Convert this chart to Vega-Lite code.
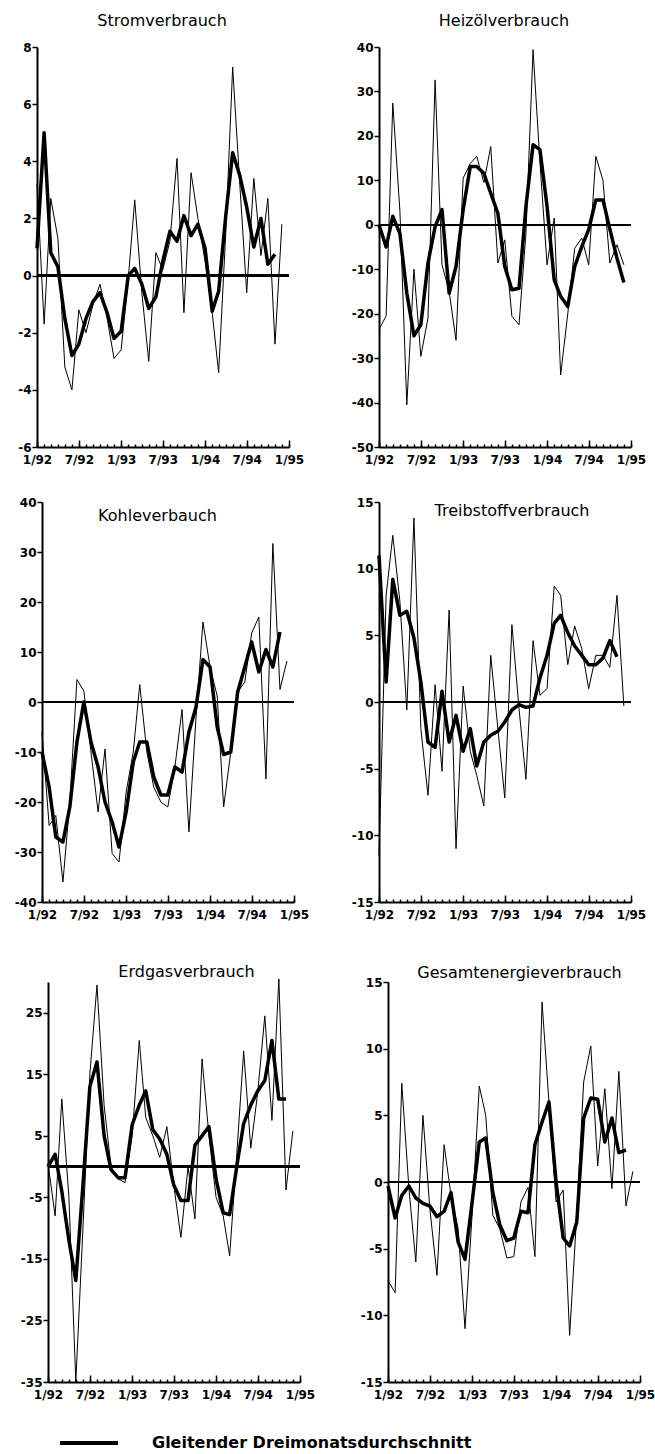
{
"$schema": "https://vega.github.io/schema/vega-lite/v6.json",
"background": "white",
"padding": {"left": 14, "top": 13, "right": 0, "bottom": 0},
"columns": 2,
"spacing": {"row": 55, "column": 79},
"bounds": "flush",
"datasets": {
"strom": [
{"d":"1992-01","v":3.2,"a":0.95},{"d":"1992-02","v":-1.7,"a":5.0},{"d":"1992-03","v":2.7,"a":0.8},{"d":"1992-04","v":1.3,"a":0.3},{"d":"1992-05","v":-3.2,"a":-1.5},{"d":"1992-06","v":-4.0,"a":-2.8},{"d":"1992-07","v":-1.2,"a":-2.4},{"d":"1992-08","v":-2.0,"a":-1.5},{"d":"1992-09","v":-1.0,"a":-0.9},{"d":"1992-10","v":-0.3,"a":-0.6},{"d":"1992-11","v":-1.5,"a":-1.3},{"d":"1992-12","v":-2.9,"a":-2.2},
{"d":"1993-01","v":-2.6,"a":-1.95},{"d":"1993-02","v":-0.1,"a":0.0},{"d":"1993-03","v":2.65,"a":0.25},{"d":"1993-04","v":-0.6,"a":-0.3},{"d":"1993-05","v":-3.0,"a":-1.15},{"d":"1993-06","v":0.8,"a":-0.75},{"d":"1993-07","v":0.2,"a":0.5},{"d":"1993-08","v":1.2,"a":1.55},{"d":"1993-09","v":4.1,"a":1.2},{"d":"1993-10","v":-1.3,"a":2.1},{"d":"1993-11","v":3.6,"a":1.4},{"d":"1993-12","v":2.0,"a":1.8},
{"d":"1994-01","v":0.5,"a":0.95},{"d":"1994-02","v":-1.3,"a":-1.25},{"d":"1994-03","v":-3.4,"a":-0.55},{"d":"1994-04","v":1.5,"a":2.1},{"d":"1994-05","v":7.3,"a":4.3},{"d":"1994-06","v":3.2,"a":3.5},{"d":"1994-07","v":-0.6,"a":2.4},{"d":"1994-08","v":3.4,"a":1.0},{"d":"1994-09","v":0.7,"a":2.0},{"d":"1994-10","v":2.7,"a":0.4},{"d":"1994-11","v":-2.4,"a":0.75},{"d":"1994-12","v":1.8,"a":null}
],
"heiz": [
{"d":"1992-01","v":-23.6,"a":0},{"d":"1992-02","v":-20.5,"a":-5},{"d":"1992-03","v":27.4,"a":1.9},{"d":"1992-04","v":3,"a":-2},{"d":"1992-05","v":-40.5,"a":-15.4},{"d":"1992-06","v":-10,"a":-25},{"d":"1992-07","v":-29.6,"a":-22.5},{"d":"1992-08","v":-21,"a":-8.6},{"d":"1992-09","v":32.6,"a":-0.4},{"d":"1992-10","v":-9,"a":3.4},{"d":"1992-11","v":-15,"a":-15.4},{"d":"1992-12","v":-26,"a":-9.4},
{"d":"1993-01","v":10.5,"a":3.4},{"d":"1993-02","v":13.8,"a":13.1},{"d":"1993-03","v":15.4,"a":13.1},{"d":"1993-04","v":9.5,"a":11.6},{"d":"1993-05","v":17.6,"a":7.1},{"d":"1993-06","v":-8.6,"a":2.6},{"d":"1993-07","v":-3.4,"a":-9.4},{"d":"1993-08","v":-20.6,"a":-14.6},{"d":"1993-09","v":-22.5,"a":-14.3},{"d":"1993-10","v":-2,"a":4.1},{"d":"1993-11","v":39.4,"a":18},{"d":"1993-12","v":14,"a":16.9},
{"d":"1994-01","v":-9,"a":4.1},{"d":"1994-02","v":1.5,"a":-12.4},{"d":"1994-03","v":-33.8,"a":-16.1},{"d":"1994-04","v":-20,"a":-18.4},{"d":"1994-05","v":-5.3,"a":-9.4},{"d":"1994-06","v":-3,"a":-4.9},{"d":"1994-07","v":-9,"a":-1.1},{"d":"1994-08","v":15.4,"a":5.6},{"d":"1994-09","v":10,"a":5.6},{"d":"1994-10","v":-8.6,"a":-1},{"d":"1994-11","v":-4.5,"a":-7.5},{"d":"1994-12","v":-9,"a":-13}
],
"kohle": [
{"d":"1992-01","v":-6,"a":-10},{"d":"1992-02","v":-24.7,"a":-17},{"d":"1992-03","v":-22.7,"a":-27},{"d":"1992-04","v":-36,"a":-28},{"d":"1992-05","v":-20,"a":-21},{"d":"1992-06","v":4.5,"a":-8},{"d":"1992-07","v":2.2,"a":0},{"d":"1992-08","v":-10,"a":-8},{"d":"1992-09","v":-22,"a":-13},{"d":"1992-10","v":-9.4,"a":-20},{"d":"1992-11","v":-30.3,"a":-24},{"d":"1992-12","v":-32,"a":-29},
{"d":"1993-01","v":-18,"a":-22},{"d":"1993-02","v":-10,"a":-12},{"d":"1993-03","v":3.5,"a":-8},{"d":"1993-04","v":-10,"a":-8},{"d":"1993-05","v":-17,"a":-15},{"d":"1993-06","v":-20,"a":-18.6},{"d":"1993-07","v":-21,"a":-18.6},{"d":"1993-08","v":-13,"a":-13},{"d":"1993-09","v":-1.5,"a":-14},{"d":"1993-10","v":-26,"a":-6},{"d":"1993-11","v":-3,"a":-1},{"d":"1993-12","v":16,"a":8.5},
{"d":"1994-01","v":7,"a":7},{"d":"1994-02","v":1.2,"a":-5},{"d":"1994-03","v":-21,"a":-10.5},{"d":"1994-04","v":-10,"a":-10},{"d":"1994-05","v":2,"a":2},{"d":"1994-06","v":4,"a":7},{"d":"1994-07","v":13.8,"a":12},{"d":"1994-08","v":17,"a":6},{"d":"1994-09","v":-15.4,"a":10.5},{"d":"1994-10","v":31.7,"a":7},{"d":"1994-11","v":2.5,"a":14},{"d":"1994-12","v":8.2,"a":null}
],
"treib": [
{"d":"1992-01","v":-11.5,"a":11},{"d":"1992-02","v":8,"a":1.5},{"d":"1992-03","v":12.5,"a":9.2},{"d":"1992-04","v":7.5,"a":6.5},{"d":"1992-05","v":-0.6,"a":6.8},{"d":"1992-06","v":13.8,"a":4.8},{"d":"1992-07","v":-2,"a":1.5},{"d":"1992-08","v":-7,"a":-3},{"d":"1992-09","v":1.3,"a":-3.4},{"d":"1992-10","v":-5.2,"a":0.8},{"d":"1992-11","v":6.9,"a":-3},{"d":"1992-12","v":-11,"a":-1},
{"d":"1993-01","v":1.2,"a":-3.7},{"d":"1993-02","v":-3.7,"a":-2},{"d":"1993-03","v":-5.5,"a":-4.8},{"d":"1993-04","v":-7.8,"a":-3},{"d":"1993-05","v":3.5,"a":-2.5},{"d":"1993-06","v":-2,"a":-2.2},{"d":"1993-07","v":-7.2,"a":-1.5},{"d":"1993-08","v":5.8,"a":-0.6},{"d":"1993-09","v":-0.5,"a":-0.2},{"d":"1993-10","v":-5.8,"a":-0.4},{"d":"1993-11","v":4.6,"a":-0.3},{"d":"1993-12","v":0.5,"a":1.8},
{"d":"1994-01","v":1,"a":3.5},{"d":"1994-02","v":8.7,"a":5.9},{"d":"1994-03","v":8,"a":6.5},{"d":"1994-04","v":2.8,"a":5.2},{"d":"1994-05","v":5.7,"a":4.2},{"d":"1994-06","v":4,"a":3.5},{"d":"1994-07","v":1,"a":2.8},{"d":"1994-08","v":3.5,"a":2.8},{"d":"1994-09","v":3.5,"a":3.3},{"d":"1994-10","v":2.6,"a":4.6},{"d":"1994-11","v":8,"a":3.4},{"d":"1994-12","v":-0.3,"a":null}
],
"erdgas": [
{"d":"1992-01","v":0.5,"a":0},{"d":"1992-02","v":-8,"a":2},{"d":"1992-03","v":11,"a":-4},{"d":"1992-04","v":-5,"a":-12},{"d":"1992-05","v":-35,"a":-18.5},{"d":"1992-06","v":-10,"a":-3},{"d":"1992-07","v":15,"a":13},{"d":"1992-08","v":29.5,"a":17},{"d":"1992-09","v":10,"a":5},{"d":"1992-10","v":0,"a":-0.5},{"d":"1992-11","v":-2,"a":-1.8},{"d":"1992-12","v":-2.6,"a":-1.8},
{"d":"1993-01","v":5,"a":6.8},{"d":"1993-02","v":20.5,"a":10},{"d":"1993-03","v":8,"a":12.3},{"d":"1993-04","v":5,"a":6},{"d":"1993-05","v":1.5,"a":4.5},{"d":"1993-06","v":6.5,"a":2},{"d":"1993-07","v":-3,"a":-3},{"d":"1993-08","v":-11.5,"a":-5.5},{"d":"1993-09","v":0,"a":-5.5},{"d":"1993-10","v":-8.5,"a":3.5},{"d":"1993-11","v":17.5,"a":5},{"d":"1993-12","v":5,"a":6.5},
{"d":"1994-01","v":-5,"a":-2},{"d":"1994-02","v":-8,"a":-7.5},{"d":"1994-03","v":-14.5,"a":-7.8},{"d":"1994-04","v":2,"a":0},{"d":"1994-05","v":18.8,"a":7},{"d":"1994-06","v":3,"a":10},{"d":"1994-07","v":12,"a":12.3},{"d":"1994-08","v":24.5,"a":14},{"d":"1994-09","v":7.5,"a":20.5},{"d":"1994-10","v":30.5,"a":11},{"d":"1994-11","v":-3.8,"a":11},{"d":"1994-12","v":5.8,"a":null}
],
"gesamt": [
{"d":"1992-01","v":-7.4,"a":-0.3},{"d":"1992-02","v":-8.3,"a":-2.7},{"d":"1992-03","v":7.4,"a":-1.0},{"d":"1992-04","v":-0.5,"a":-0.3},{"d":"1992-05","v":-6,"a":-1.2},{"d":"1992-06","v":5,"a":-1.6},{"d":"1992-07","v":-2,"a":-1.8},{"d":"1992-08","v":-7,"a":-2.6},{"d":"1992-09","v":2.8,"a":-2.2},{"d":"1992-10","v":-1,"a":-0.8},{"d":"1992-11","v":-3.5,"a":-4.5},{"d":"1992-12","v":-11,"a":-5.8},
{"d":"1993-01","v":-2.4,"a":-1.5},{"d":"1993-02","v":7.2,"a":3},{"d":"1993-03","v":5,"a":3.3},{"d":"1993-04","v":-2.5,"a":-0.8},{"d":"1993-05","v":-3.5,"a":-3.2},{"d":"1993-06","v":-5.7,"a":-4.4},{"d":"1993-07","v":-5.6,"a":-4.2},{"d":"1993-08","v":-1.5,"a":-2.2},{"d":"1993-09","v":-0.4,"a":-2.3},{"d":"1993-10","v":-5.6,"a":2.8},{"d":"1993-11","v":13.5,"a":4.5},{"d":"1993-12","v":6,"a":6},
{"d":"1994-01","v":-1.5,"a":0},{"d":"1994-02","v":-0.6,"a":-4.2},{"d":"1994-03","v":-11.5,"a":-4.8},{"d":"1994-04","v":-2.4,"a":-3},{"d":"1994-05","v":7.5,"a":4.8},{"d":"1994-06","v":10.2,"a":6.3},{"d":"1994-07","v":1.2,"a":6.2},{"d":"1994-08","v":7,"a":3},{"d":"1994-09","v":-0.5,"a":4.8},{"d":"1994-10","v":8.3,"a":2.2},{"d":"1994-11","v":-1.8,"a":2.4},{"d":"1994-12","v":0.8,"a":null}
]
},
"concat": [
{
"width": 252, "height": 400,
"title": {"text": "Stromverbrauch", "frame": "group", "anchor": "middle", "dx": -1, "offset": 12},
"data": {"name": "strom"},
"layer": [
{"mark": {"type": "line", "color": "black", "strokeWidth": 1, "strokeJoin": "round"},
 "encoding": {
  "x": {"field": "d", "type": "temporal", "scale": {"type": "utc", "domain": [{"year":1992,"month":1,"date":1,"utc":true},{"year":1995,"month":1,"date":1,"utc":true}], "range": [0, 252]},
        "axis": {"orient": "bottom", "tickCount": {"interval": "month", "step": 6}, "format": "%-m/%y", "ticks": false, "tickSize": 0, "labelPadding": 7, "labelFlush": false, "labelOverlap": false, "title": null}},
  "y": {"field": "v", "type": "quantitative", "scale": {"domain": [-6, 8], "nice": false, "zero": false},
        "axis": {"orient": "left", "values": [-6,-4,-2,0,2,4,6,8], "tickSize": 5, "labelPadding": 1, "title": null, "labelExpr": "datum.value < 0 ? '-' + (-datum.value) : '' + datum.value"}}
 }},
{"mark": {"type": "line", "color": "black", "strokeWidth": 3.5, "strokeJoin": "round"},
 "encoding": {
  "x": {"field": "d", "type": "temporal", "scale": {"type": "utc", "domain": [{"year":1992,"month":1,"date":1,"utc":true},{"year":1995,"month":1,"date":1,"utc":true}], "range": [0, 252]},
        "axis": {"orient": "top", "offset": -400, "tickCount": {"interval": "month", "step": 1}, "labels": false, "domain": false, "tickSize": 3, "title": null}},
  "y": {"field": "a", "type": "quantitative", "scale": {"domain": [-6, 8], "nice": false, "zero": false}, "axis": null}
 }},
{"mark": {"type": "rule", "color": "black", "strokeWidth": 1.5},
 "encoding": {
  "x": {"datum": {"year":1992,"month":1,"date":1,"utc":true}, "type": "temporal", "scale": {"type": "utc", "domain": [{"year":1992,"month":1,"date":1,"utc":true},{"year":1995,"month":1,"date":1,"utc":true}], "range": [0, 252]},
        "axis": {"orient": "top", "offset": -400, "tickCount": {"interval": "month", "step": 6}, "labels": false, "domain": false, "tickSize": 7, "title": null}},
  "x2": {"datum": {"year":1995,"month":1,"date":1,"utc":true}},
  "y": {"datum": 0, "type": "quantitative", "scale": {"domain": [-6, 8], "nice": false, "zero": false}, "axis": null}
 }}
],
"resolve": {"axis": {"x": "independent", "y": "independent"}}
},
{
"width": 252, "height": 400,
"title": {"text": "Heizölverbrauch", "frame": "group", "anchor": "middle", "dx": -1, "offset": 12},
"data": {"name": "heiz"},
"layer": [
{"mark": {"type": "line", "color": "black", "strokeWidth": 1, "strokeJoin": "round"},
 "encoding": {
  "x": {"field": "d", "type": "temporal", "scale": {"type": "utc", "domain": [{"year":1992,"month":1,"date":1,"utc":true},{"year":1995,"month":1,"date":1,"utc":true}], "range": [0, 252]},
        "axis": {"orient": "bottom", "tickCount": {"interval": "month", "step": 6}, "format": "%-m/%y", "ticks": false, "tickSize": 0, "labelPadding": 7, "labelFlush": false, "labelOverlap": false, "title": null}},
  "y": {"field": "v", "type": "quantitative", "scale": {"domain": [-50, 40], "nice": false, "zero": false},
        "axis": {"orient": "left", "values": [-50,-40,-30,-20,-10,0,10,20,30,40], "tickSize": 5, "labelPadding": 1, "title": null, "labelExpr": "datum.value < 0 ? '-' + (-datum.value) : '' + datum.value"}}
 }},
{"mark": {"type": "line", "color": "black", "strokeWidth": 3.5, "strokeJoin": "round"},
 "encoding": {
  "x": {"field": "d", "type": "temporal", "scale": {"type": "utc", "domain": [{"year":1992,"month":1,"date":1,"utc":true},{"year":1995,"month":1,"date":1,"utc":true}], "range": [0, 252]},
        "axis": {"orient": "top", "offset": -400, "tickCount": {"interval": "month", "step": 1}, "labels": false, "domain": false, "tickSize": 3, "title": null}},
  "y": {"field": "a", "type": "quantitative", "scale": {"domain": [-50, 40], "nice": false, "zero": false}, "axis": null}
 }},
{"mark": {"type": "rule", "color": "black", "strokeWidth": 1.5},
 "encoding": {
  "x": {"datum": {"year":1992,"month":1,"date":1,"utc":true}, "type": "temporal", "scale": {"type": "utc", "domain": [{"year":1992,"month":1,"date":1,"utc":true},{"year":1995,"month":1,"date":1,"utc":true}], "range": [0, 252]},
        "axis": {"orient": "top", "offset": -400, "tickCount": {"interval": "month", "step": 6}, "labels": false, "domain": false, "tickSize": 7, "title": null}},
  "x2": {"datum": {"year":1995,"month":1,"date":1,"utc":true}},
  "y": {"datum": 0, "type": "quantitative", "scale": {"domain": [-50, 40], "nice": false, "zero": false}, "axis": null}
 }}
],
"resolve": {"axis": {"x": "independent", "y": "independent"}}
},
{
"width": 257, "height": 400,
"title": {"text": "Kohleverbauch", "frame": "group", "anchor": "middle", "dx": -8, "offset": -28},
"data": {"name": "kohle"},
"layer": [
{"mark": {"type": "line", "color": "black", "strokeWidth": 1, "strokeJoin": "round"},
 "encoding": {
  "x": {"field": "d", "type": "temporal", "scale": {"type": "utc", "domain": [{"year":1992,"month":1,"date":1,"utc":true},{"year":1995,"month":1,"date":1,"utc":true}], "range": [5, 257]},
        "axis": {"orient": "bottom", "tickCount": {"interval": "month", "step": 6}, "format": "%-m/%y", "ticks": false, "tickSize": 0, "labelPadding": 7, "labelFlush": false, "labelOverlap": false, "title": null}},
  "y": {"field": "v", "type": "quantitative", "scale": {"domain": [-40, 40], "nice": false, "zero": false},
        "axis": {"orient": "left", "offset": -5, "values": [-40,-30,-20,-10,0,10,20,30,40], "tickSize": 5, "labelPadding": 1, "title": null, "labelExpr": "datum.value < 0 ? '-' + (-datum.value) : '' + datum.value"}}
 }},
{"mark": {"type": "line", "color": "black", "strokeWidth": 3.5, "strokeJoin": "round"},
 "encoding": {
  "x": {"field": "d", "type": "temporal", "scale": {"type": "utc", "domain": [{"year":1992,"month":1,"date":1,"utc":true},{"year":1995,"month":1,"date":1,"utc":true}], "range": [5, 257]},
        "axis": {"orient": "top", "offset": -400, "tickCount": {"interval": "month", "step": 1}, "labels": false, "domain": false, "tickSize": 3, "title": null}},
  "y": {"field": "a", "type": "quantitative", "scale": {"domain": [-40, 40], "nice": false, "zero": false}, "axis": null}
 }},
{"mark": {"type": "rule", "color": "black", "strokeWidth": 1.5},
 "encoding": {
  "x": {"datum": {"year":1992,"month":1,"date":1,"utc":true}, "type": "temporal", "scale": {"type": "utc", "domain": [{"year":1992,"month":1,"date":1,"utc":true},{"year":1995,"month":1,"date":1,"utc":true}], "range": [5, 257]},
        "axis": {"orient": "top", "offset": -400, "tickCount": {"interval": "month", "step": 6}, "labels": false, "domain": false, "tickSize": 7, "title": null}},
  "x2": {"datum": {"year":1995,"month":1,"date":1,"utc":true}},
  "y": {"datum": 0, "type": "quantitative", "scale": {"domain": [-40, 40], "nice": false, "zero": false}, "axis": null}
 }}
],
"resolve": {"axis": {"x": "independent", "y": "independent"}}
},
{
"width": 252, "height": 400,
"title": {"text": "Treibstoffverbrauch", "frame": "group", "anchor": "middle", "dx": 7, "offset": -23},
"data": {"name": "treib"},
"layer": [
{"mark": {"type": "line", "color": "black", "strokeWidth": 1, "strokeJoin": "round"},
 "encoding": {
  "x": {"field": "d", "type": "temporal", "scale": {"type": "utc", "domain": [{"year":1992,"month":1,"date":1,"utc":true},{"year":1995,"month":1,"date":1,"utc":true}], "range": [0, 252]},
        "axis": {"orient": "bottom", "tickCount": {"interval": "month", "step": 6}, "format": "%-m/%y", "ticks": false, "tickSize": 0, "labelPadding": 7, "labelFlush": false, "labelOverlap": false, "title": null}},
  "y": {"field": "v", "type": "quantitative", "scale": {"domain": [-15, 15], "nice": false, "zero": false},
        "axis": {"orient": "left", "values": [-15,-10,-5,0,5,10,15], "tickSize": 5, "labelPadding": 1, "title": null, "labelExpr": "datum.value < 0 ? '-' + (-datum.value) : '' + datum.value"}}
 }},
{"mark": {"type": "line", "color": "black", "strokeWidth": 3.5, "strokeJoin": "round"},
 "encoding": {
  "x": {"field": "d", "type": "temporal", "scale": {"type": "utc", "domain": [{"year":1992,"month":1,"date":1,"utc":true},{"year":1995,"month":1,"date":1,"utc":true}], "range": [0, 252]},
        "axis": {"orient": "top", "offset": -400, "tickCount": {"interval": "month", "step": 1}, "labels": false, "domain": false, "tickSize": 3, "title": null}},
  "y": {"field": "a", "type": "quantitative", "scale": {"domain": [-15, 15], "nice": false, "zero": false}, "axis": null}
 }},
{"mark": {"type": "rule", "color": "black", "strokeWidth": 1.5},
 "encoding": {
  "x": {"datum": {"year":1992,"month":1,"date":1,"utc":true}, "type": "temporal", "scale": {"type": "utc", "domain": [{"year":1992,"month":1,"date":1,"utc":true},{"year":1995,"month":1,"date":1,"utc":true}], "range": [0, 252]},
        "axis": {"orient": "top", "offset": -400, "tickCount": {"interval": "month", "step": 6}, "labels": false, "domain": false, "tickSize": 7, "title": null}},
  "x2": {"datum": {"year":1995,"month":1,"date":1,"utc":true}},
  "y": {"datum": 0, "type": "quantitative", "scale": {"domain": [-15, 15], "nice": false, "zero": false}, "axis": null}
 }}
],
"resolve": {"axis": {"x": "independent", "y": "independent"}}
},
{
"width": 263, "height": 425,
"title": {"text": "Erdgasverbrauch", "frame": "group", "anchor": "middle", "dx": 18, "offset": -23},
"data": {"name": "erdgas"},
"layer": [
{"mark": {"type": "line", "color": "black", "strokeWidth": 1, "strokeJoin": "round"},
 "encoding": {
  "x": {"field": "d", "type": "temporal", "scale": {"type": "utc", "domain": [{"year":1992,"month":1,"date":1,"utc":true},{"year":1995,"month":1,"date":1,"utc":true}], "range": [11, 263]},
        "axis": {"orient": "bottom", "tickCount": {"interval": "month", "step": 6}, "format": "%-m/%y", "ticks": false, "tickSize": 0, "labelPadding": 7, "labelFlush": false, "labelOverlap": false, "title": null}},
  "y": {"field": "v", "type": "quantitative", "scale": {"domain": [-35, 30], "nice": false, "zero": false, "range": [425, 25]},
        "axis": {"orient": "left", "offset": -11, "values": [-35,-25,-15,-5,5,15,25], "tickSize": 5, "labelPadding": 1, "title": null, "labelExpr": "datum.value < 0 ? '-' + (-datum.value) : '' + datum.value"}}
 }},
{"mark": {"type": "line", "color": "black", "strokeWidth": 3.5, "strokeJoin": "round"},
 "encoding": {
  "x": {"field": "d", "type": "temporal", "scale": {"type": "utc", "domain": [{"year":1992,"month":1,"date":1,"utc":true},{"year":1995,"month":1,"date":1,"utc":true}], "range": [11, 263]},
        "axis": {"orient": "top", "offset": -425, "tickCount": {"interval": "month", "step": 1}, "labels": false, "domain": false, "tickSize": 3, "title": null}},
  "y": {"field": "a", "type": "quantitative", "scale": {"domain": [-35, 30], "nice": false, "zero": false, "range": [425, 25]}, "axis": null},
  "stroke": {"datum": "Gleitender Dreimonatsdurchschnitt", "type": "nominal", "scale": {"range": ["black"]},
             "legend": {"orient": "none", "legendX": 21, "legendY": 1365, "title": null, "symbolType": "stroke", "symbolSize": 3364, "symbolStrokeWidth": 4, "labelFont": "DejaVu Sans", "labelFontSize": 16, "labelFontWeight": "bold", "labelColor": "black", "labelOffset": 32, "labelLimit": 0, "padding": 0}}
 }},
{"mark": {"type": "rule", "color": "black", "strokeWidth": 1.5},
 "encoding": {
  "x": {"datum": {"year":1992,"month":1,"date":1,"utc":true}, "type": "temporal", "scale": {"type": "utc", "domain": [{"year":1992,"month":1,"date":1,"utc":true},{"year":1995,"month":1,"date":1,"utc":true}], "range": [11, 263]},
        "axis": {"orient": "top", "offset": -425, "tickCount": {"interval": "month", "step": 6}, "labels": false, "domain": false, "tickSize": 7, "title": null}},
  "x2": {"datum": {"year":1995,"month":1,"date":1,"utc":true}},
  "y": {"datum": 0, "type": "quantitative", "scale": {"domain": [-35, 30], "nice": false, "zero": false, "range": [425, 25]}, "axis": null}
 }}
],
"resolve": {"axis": {"x": "independent", "y": "independent"}}
},
{
"width": 261, "height": 425,
"title": {"text": "Gesamtenergieverbrauch", "frame": "group", "anchor": "middle", "dx": 10, "offset": -24},
"data": {"name": "gesamt"},
"layer": [
{"mark": {"type": "line", "color": "black", "strokeWidth": 1, "strokeJoin": "round"},
 "encoding": {
  "x": {"field": "d", "type": "temporal", "scale": {"type": "utc", "domain": [{"year":1992,"month":1,"date":1,"utc":true},{"year":1995,"month":1,"date":1,"utc":true}], "range": [9, 261]},
        "axis": {"orient": "bottom", "tickCount": {"interval": "month", "step": 6}, "format": "%-m/%y", "ticks": false, "tickSize": 0, "labelPadding": 7, "labelFlush": false, "labelOverlap": false, "title": null}},
  "y": {"field": "v", "type": "quantitative", "scale": {"domain": [-15, 15], "nice": false, "zero": false, "range": [425, 25]},
        "axis": {"orient": "left", "offset": -9, "values": [-15,-10,-5,0,5,10,15], "tickSize": 5, "labelPadding": 1, "title": null, "labelExpr": "datum.value < 0 ? '-' + (-datum.value) : '' + datum.value"}}
 }},
{"mark": {"type": "line", "color": "black", "strokeWidth": 3.5, "strokeJoin": "round"},
 "encoding": {
  "x": {"field": "d", "type": "temporal", "scale": {"type": "utc", "domain": [{"year":1992,"month":1,"date":1,"utc":true},{"year":1995,"month":1,"date":1,"utc":true}], "range": [9, 261]},
        "axis": {"orient": "top", "offset": -425, "tickCount": {"interval": "month", "step": 1}, "labels": false, "domain": false, "tickSize": 3, "title": null}},
  "y": {"field": "a", "type": "quantitative", "scale": {"domain": [-15, 15], "nice": false, "zero": false, "range": [425, 25]}, "axis": null}
 }},
{"mark": {"type": "rule", "color": "black", "strokeWidth": 1.5},
 "encoding": {
  "x": {"datum": {"year":1992,"month":1,"date":1,"utc":true}, "type": "temporal", "scale": {"type": "utc", "domain": [{"year":1992,"month":1,"date":1,"utc":true},{"year":1995,"month":1,"date":1,"utc":true}], "range": [9, 261]},
        "axis": {"orient": "top", "offset": -425, "tickCount": {"interval": "month", "step": 6}, "labels": false, "domain": false, "tickSize": 7, "title": null}},
  "x2": {"datum": {"year":1995,"month":1,"date":1,"utc":true}},
  "y": {"datum": 0, "type": "quantitative", "scale": {"domain": [-15, 15], "nice": false, "zero": false, "range": [425, 25]}, "axis": null}
 }}
],
"resolve": {"axis": {"x": "independent", "y": "independent"}}
}
],
"config": {
"view": {"stroke": null},
"font": "DejaVu Sans",
"axis": {"domainColor": "black", "domainWidth": 2, "tickColor": "black", "tickWidth": 1.5, "labelFont": "DejaVu Sans", "labelFontSize": 12, "labelFontWeight": "bold", "labelColor": "black", "grid": false},
"title": {"font": "DejaVu Sans", "fontSize": 16, "fontWeight": "normal", "color": "black"}
}
}
